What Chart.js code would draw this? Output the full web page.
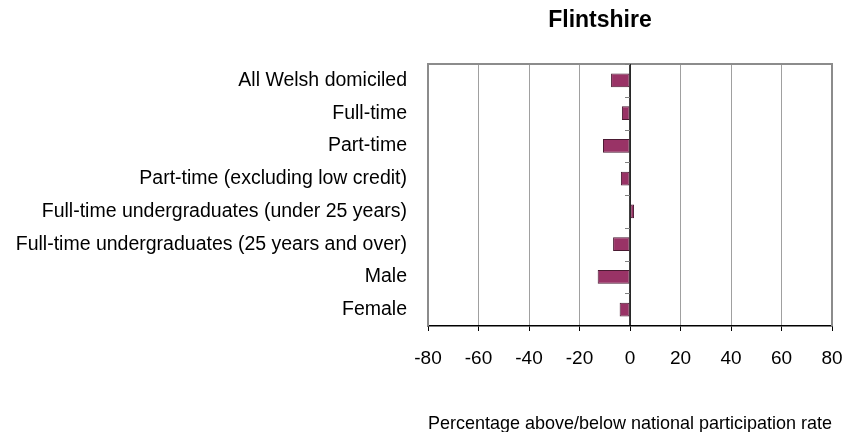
<!DOCTYPE html>
<html>
<head>
<meta charset="utf-8">
<script src="https://cdn.jsdelivr.net/npm/chart.js@4"></script>
<style>
html,body{margin:0;padding:0;background:#fff;}
#wrap{width:846px;height:432px;}
</style>
</head>
<body>
<div id="wrap"><canvas id="c" width="846" height="432"></canvas></div>
<script>
const titleText = "Flintshire";
const categories = [
  "All Welsh domiciled",
  "Full-time",
  "Part-time",
  "Part-time (excluding low credit)",
  "Full-time undergraduates (under 25 years)",
  "Full-time undergraduates (25 years and over)",
  "Male",
  "Female"
];
const values = [-7.5, -3.2, -10.7, -3.6, 1.6, -6.7, -12.8, -4.1];
const xTicks = [-80, -60, -40, -20, 0, 20, 40, 60, 80];
const xAxisTitle = "Percentage above/below national participation rate";

const FONT = "'Liberation Sans', Arial, sans-serif";

const framePlugin = {
  id: 'frame',
  beforeDatasetsDraw(chart) {
    const {ctx, chartArea: a} = chart;
    ctx.save();
    ctx.strokeStyle = '#8c8c8c';
    ctx.lineWidth = 2;
    ctx.beginPath();
    ctx.moveTo(a.left, a.bottom);
    ctx.lineTo(a.left, a.top);
    ctx.lineTo(a.right, a.top);
    ctx.lineTo(a.right, a.bottom);
    ctx.stroke();
    const x0 = chart.scales.x.getPixelForValue(0);
    ctx.strokeStyle = '#000';
    ctx.lineWidth = 1.5;
    ctx.beginPath();
    ctx.moveTo(x0, a.top);
    ctx.lineTo(x0, a.bottom);
    ctx.stroke();
    const ys = chart.scales.y;
    ctx.strokeStyle = '#808080';
    ctx.lineWidth = 1;
    for (let i = 0; i <= categories.length; i++) {
      let y;
      if (i === 0) y = a.top; else if (i === categories.length) y = a.bottom;
      else y = (ys.getPixelForValue(i - 1) + ys.getPixelForValue(i)) / 2;
      y = Math.round(y) + 0.5;
      ctx.beginPath();
      ctx.moveTo(x0 - 5, y);
      ctx.lineTo(x0, y);
      ctx.stroke();
    }
    ctx.restore();
  },
  afterDraw(chart) {
    const {ctx} = chart;
    ctx.save();
    ctx.fillStyle = '#000';
    ctx.font = "bold 23px " + FONT;
    ctx.textAlign = 'center';
    ctx.textBaseline = 'middle';
    ctx.fillText(titleText, 600, 21);
    ctx.restore();
  }
};

new Chart(document.getElementById('c'), {
  type: 'bar',
  data: {
    labels: categories,
    datasets: [{
      data: values,
      backgroundColor: '#993366',
      borderColor: '#4a1a32',
      borderWidth: 1,
      borderSkipped: false,
      categoryPercentage: 1,
      barPercentage: 0.42
    }]
  },
  options: {
    indexAxis: 'y',
    responsive: false,
    animation: false,
    devicePixelRatio: 1,
    layout: {padding: {top: 64, right: 14, left: 0, bottom: 0}},
    plugins: {legend: {display: false}, tooltip: {enabled: false}, title: {display: false}},
    scales: {
      x: {
        type: 'linear',
        min: -80, max: 80,
        afterBuildTicks(scale) { scale.ticks = xTicks.map(v => ({value: v})); },
        afterFit(scale) { scale.height = 106; scale.paddingLeft = 0; scale.paddingRight = 0; },
        grid: {
          color: '#a0a0a0',
          lineWidth: 1,
          drawTicks: true,
          tickLength: 5,
          tickColor: '#000'
        },
        border: {display: true, color: '#000', width: 1.5},
        ticks: {
          color: '#000',
          padding: 16,
          font: {family: FONT, size: 19},
          maxRotation: 0,
          autoSkip: false
        },
        title: {
          display: true,
          text: xAxisTitle,
          color: '#000',
          font: {family: FONT, size: 18.5},
          padding: {top: 0, bottom: -3}
        }
      },
      y: {
        afterFit(scale) { scale.width = 428; scale.paddingTop = 0; scale.paddingBottom = 0; },
        grid: {display: false, drawTicks: false},
        border: {display: false},
        ticks: {
          color: '#000',
          padding: 21,
          font: {family: FONT, size: 19.5},
          autoSkip: false
        }
      }
    }
  },
  plugins: [framePlugin]
});
</script>
</body>
</html>
